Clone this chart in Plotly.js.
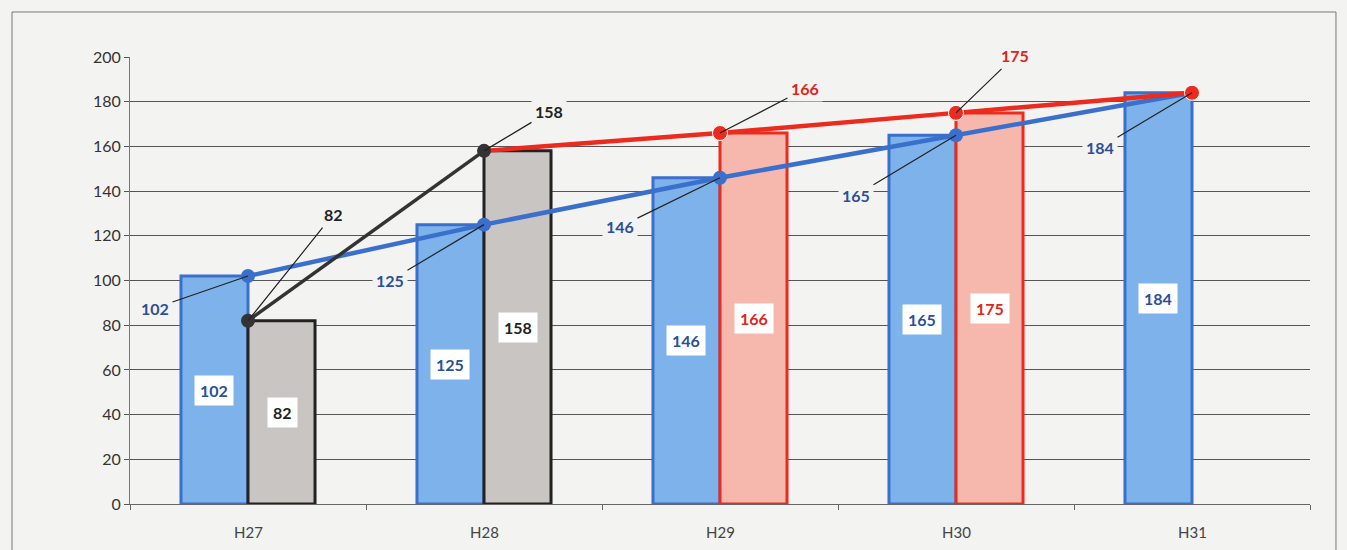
<!DOCTYPE html>
<html>
<head>
<meta charset="utf-8">
<script src="https://cdn.plot.ly/plotly-3.0.1.min.js"></script>
<style>html,body{margin:0;padding:0;background:#f3f3f1;}#chart{width:1347px;height:550px;}</style>
</head>
<body>
<div id="chart"></div>
<script>
const categories = ['H27', 'H28', 'H29', 'H30', 'H31'];
const planValues = [102, 125, 146, 165, 184];
const actualValues = [82, 158, 166, 175, null];
const actualLineValues = [82, 158, null, null, null];
const forecastLineValues = [null, 158, 166, 175, 184];

const BG = '#f3f3f1';
const BLUE_FILL = '#7db3ea', BLUE_LINE = '#3b6fcc', BLUE_TEXT = '#2c4f98';
const GRAY_FILL = '#c9c5c2', GRAY_LINE = '#222222';
const PINK_FILL = '#f6b8ac', RED_LINE = '#ec2a1e', RED_TEXT = '#e0251a';

const secondFill = actualValues.map((v, i) => i < 2 ? GRAY_FILL : PINK_FILL);
const secondLine = actualValues.map((v, i) => i < 2 ? GRAY_LINE : RED_LINE);

const traces = [
  {type: 'bar', x: categories, y: planValues, marker: {color: BLUE_FILL, line: {color: BLUE_LINE, width: 3}}, hoverinfo: 'skip'},
  {type: 'bar', x: categories, y: actualValues, marker: {color: secondFill, line: {color: secondLine, width: 3}}, hoverinfo: 'skip'},
  {type: 'scatter', mode: 'lines+markers', x: categories, y: planValues, line: {color: BLUE_LINE, width: 4.5}, marker: {color: BLUE_LINE, size: 14, opacity: 1}},
  {type: 'scatter', mode: 'lines+markers', x: categories, y: forecastLineValues, line: {color: RED_LINE, width: 4.5}, marker: {color: RED_LINE, opacity: 1, size: forecastLineValues.map((v, i) => i === 1 ? 0 : 15)}},
  {type: 'scatter', mode: 'lines+markers', x: categories, y: actualLineValues, line: {color: '#333333', width: 3.5}, marker: {color: '#333333', size: 14, opacity: 1}}
];

const annotations = [];
const labelFont = (c) => ({family: 'Lato, "Open Sans", sans-serif', size: 16, color: c, weight: 'bold'});
categories.forEach((c, i) => {
  annotations.push({x: c, y: 0, xref: 'x', yref: 'y', yshift: -28, text: c, showarrow: false, font: {family: 'Lato, "Open Sans", sans-serif', size: 15, color: '#444'}});
  annotations.push({x: c, y: planValues[i] / 2, xref: 'x', yref: 'y', xshift: -34, text: String(planValues[i]), showarrow: false, bgcolor: '#ffffff', borderpad: 5, font: labelFont(BLUE_TEXT)});
  if (actualValues[i] !== null) {
    annotations.push({x: c, y: actualValues[i] / 2, xref: 'x', yref: 'y', xshift: 34, text: String(actualValues[i]), showarrow: false, bgcolor: '#ffffff', borderpad: 5, font: labelFont(i < 2 ? '#222222' : RED_TEXT)});
  }
});
const planOffsets = [[-93, 32], [-94, 56], [-100, 49], [-100, 60], [-92, 55]];
categories.forEach((c, i) => {
  annotations.push({x: c, y: planValues[i], xref: 'x', yref: 'y', ax: planOffsets[i][0], ay: planOffsets[i][1], text: String(planValues[i]), showarrow: true, arrowhead: 0, arrowwidth: 1.2, arrowcolor: '#222', standoff: 0, bgcolor: BG, borderpad: 3, font: labelFont(BLUE_TEXT)});
});
const actualOffsets = [[85, -106], [65, -39], [85, -44], [59, -57]];
actualValues.forEach((v, i) => {
  if (v === null) return;
  annotations.push({x: categories[i], y: v, xref: 'x', yref: 'y', ax: actualOffsets[i][0], ay: actualOffsets[i][1], text: String(v), showarrow: true, arrowhead: 0, arrowwidth: 1.2, arrowcolor: '#222', standoff: 0, bgcolor: BG, borderpad: 3, font: labelFont(i < 2 ? '#222222' : RED_TEXT)});
});

const layout = {
  width: 1347, height: 550,
  margin: {l: 130, r: 37, t: 57, b: 46},
  paper_bgcolor: BG, plot_bgcolor: BG,
  showlegend: false,
  barmode: 'group', bargap: 0.432, bargroupgap: 0,
  font: {family: 'Lato, "Open Sans", sans-serif', size: 14, color: '#333'},
  xaxis: {type: 'category', showgrid: false, showline: true, linecolor: '#666', linewidth: 1, ticks: 'outside', tickson: 'boundaries', ticklen: 5, tickcolor: '#666', showticklabels: false},
  yaxis: {range: [0, 200], dtick: 20, showgrid: true, gridcolor: '#555', gridwidth: 1, showline: true, linecolor: '#777', ticks: 'outside', ticklen: 5, tickcolor: '#555', tickfont: {size: 16, color: '#333'}, zeroline: false},
  shapes: [{type: 'rect', xref: 'paper', yref: 'paper', x0: -0.1, x1: 1.022, y0: -0.2, y1: 1.1007, line: {color: '#777', width: 1}, fillcolor: 'rgba(0,0,0,0)', layer: 'below'}],
  annotations: annotations
};

Plotly.newPlot('chart', traces, layout, {staticPlot: true});
</script>
</body>
</html>
